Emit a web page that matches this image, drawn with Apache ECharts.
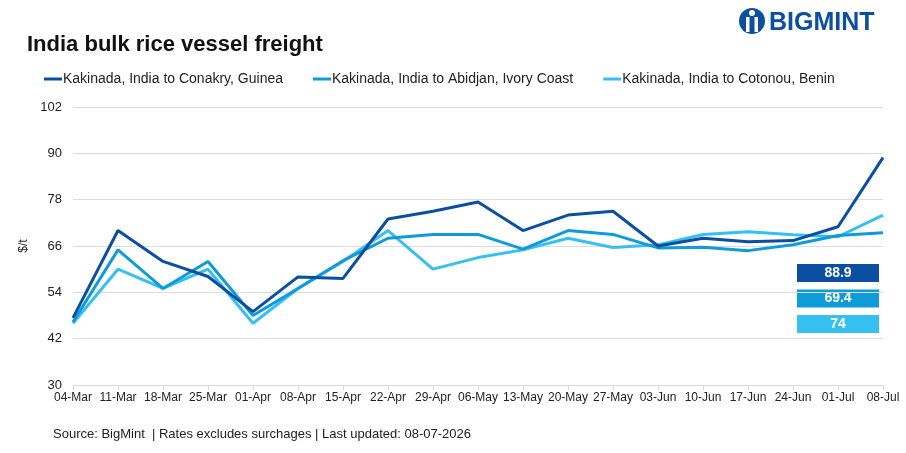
<!DOCTYPE html>
<html>
<head>
<meta charset="utf-8">
<script src="https://cdn.jsdelivr.net/npm/echarts@6/dist/echarts.min.js"></script>
<style>
  html, body { margin: 0; padding: 0; background: #fff; }
  #chart { width: 906px; height: 453px; }
</style>
</head>
<body>
<div id="chart"></div>
<script>
// weekly dates
const categories = ['04-Mar', '11-Mar', '18-Mar', '25-Mar', '01-Apr', '08-Apr', '15-Apr', '22-Apr', '29-Apr',
  '06-May', '13-May', '20-May', '27-May', '03-Jun', '10-Jun', '17-Jun', '24-Jun', '01-Jul', '08-Jul']

const seriesNames = ['Kakinada, India to Conakry, Guinea', 'Kakinada, India to Abidjan, Ivory Coast', 'Kakinada, India to Cotonou, Benin']
const conakry = [47.4, 70, 62, 58.1, 49, 58, 57.6, 73, 75, 77.4, 70, 74, 75, 66, 68, 67.1, 67.4, 71, 88.9]
const abidjan = [46.3, 65, 55, 62, 48, 55, 62.2, 68, 69, 69, 65.2, 70, 69, 65.5, 65.7, 64.8, 66.3, 68.7, 69.4]
const cotonou = [46, 60, 55, 60, 46, 55, 62, 70, 60, 63, 65, 68, 65.6, 66.3, 69, 69.7, 68.9, 68.4, 74]
const yTicks = [30, 42, 54, 66, 78, 90, 102]

const colors = ['#0b4ea2', '#0e9bd8', '#35c0f0']
const font = "'Liberation Sans', Arial, sans-serif"

const chart = echarts.init(document.getElementById('chart'))

// latest value boxes on the right
const lastVals = [conakry, abidjan, cotonou].map(a => a[a.length - 1])
const boxes = lastVals.map((v, i) => ({
  type: 'rect',
  shape: { x: 797, y: 264 + i * 25.5, width: 82, height: 18 },
  style: { fill: colors[i] },
  textContent: {
    style: { text: String(v), fill: '#fff', font: 'bold 14px ' + font }
  },
  textConfig: { position: 'inside' }
}))

chart.setOption({
  animation: false,
  backgroundColor: '#fff',
  title: {
    text: 'India bulk rice vessel freight',
    left: 22, top: 29,
    textStyle: { fontFamily: font, fontSize: 22, fontWeight: 'bold', color: '#111' }
  },
  legend: {
    left: 39, top: 67,
    icon: 'rect', itemWidth: 18, itemHeight: 3, itemGap: 30,
    textStyle: { fontFamily: font, fontSize: 14, color: '#222', padding: [0, 0, 0, -4] },
    data: seriesNames
  },
  grid: { left: 73, right: 23, top: 107, bottom: 68 },
  xAxis: {
    type: 'category',
    data: categories,
    boundaryGap: false,
    axisLine: { lineStyle: { color: '#d9d9d9', width: 1 } },
    axisTick: { show: true, alignWithLabel: true, length: 5, lineStyle: { color: '#d9d9d9' } },
    axisLabel: { fontFamily: font, fontSize: 12, color: '#222', margin: 7, interval: 0 }
  },
  yAxis: {
    type: 'value',
    min: yTicks[0], max: yTicks[yTicks.length - 1], interval: 12,
    name: '$/t', nameLocation: 'middle', nameGap: 28, nameRotate: 90,
    nameTextStyle: { fontFamily: font, fontSize: 12, color: '#222' },
    axisLine: { show: false },
    axisTick: { show: false },
    axisLabel: { fontFamily: font, fontSize: 13, color: '#222', margin: 11 },
    splitLine: { lineStyle: { color: '#dcdcdc', width: 1 } }
  },
  series: [conakry, abidjan, cotonou].map((d, i) => ({
    name: seriesNames[i],
    type: 'line',
    data: d,
    symbol: 'none',
    z: 3 - i,
    lineStyle: { color: colors[i], width: 3 },
    itemStyle: { color: colors[i] }
  })),
  graphic: [
    ...boxes,
    {
      type: 'text', left: 53, top: 428,
      style: { text: 'Source: BigMint  | Rates excludes surchages | Last updated: 08-07-2026', font: '13px ' + font, fill: '#222' }
    },
    {
      type: 'group', left: 739, top: 8,
      children: [
        { type: 'circle', shape: { cx: 12, cy: 15, r: 13 }, style: { fill: '#0b4ea2' } },
        { type: 'rect', shape: { x: 6, y: 11, width: 3.5, height: 15 }, style: { fill: '#fff' } },
        { type: 'rect', shape: { x: 14.5, y: 11, width: 3.5, height: 15 }, style: { fill: '#fff' } },
        { type: 'circle', shape: { cx: 12, cy: 7, r: 3 }, style: { fill: '#fff' } },
        { type: 'text', style: { text: 'BIGMINT', x: 29, y: 5, font: 'bold 25px ' + font, fill: '#0b4ea2' } }
      ]
    }
  ]
})
</script>
</body>
</html>
